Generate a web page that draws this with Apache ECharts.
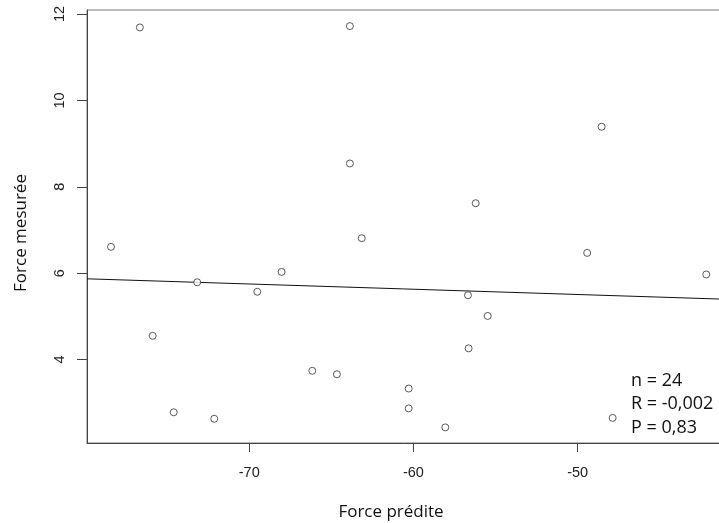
<!DOCTYPE html>
<html>
<head>
<meta charset="utf-8">
<script src="https://cdn.jsdelivr.net/npm/echarts@6/dist/echarts.min.js"></script>
<style>html,body{margin:0;padding:0;background:#fff}#c{width:719px;height:523px}</style>
</head>
<body>
<div id="c"></div>
<script>
// Data
const forcePredite = [-76.66,-63.87,-63.87,-48.54,-56.21,-78.42,-73.17,-69.51,-68.03,-63.15,-75.88,-66.16,-64.66,-60.29,-60.29,-74.60,-72.13,-49.42,-42.17,-56.68,-55.48,-56.64,-58.06,-47.87];
const forceMesuree = [11.69,11.72,8.54,9.39,7.62,6.61,5.79,5.57,6.03,6.81,4.55,3.74,3.66,3.33,2.87,2.78,2.63,6.47,5.97,5.49,5.01,4.26,2.43,2.65];
const fitX = [-79.88, -41.21];
const fitY = [5.87, 5.40];
const xTicks = [-70, -60, -50];
const yTicks = [4, 6, 8, 10, 12];
const statsLines = ["n = 24", "R = -0,002", "P = 0,83"];

const points = forcePredite.map((x, i) => [x, forceMesuree[i]]);
const fitLine = fitX.map((x, i) => [x, fitY[i]]);

const chart = echarts.init(document.getElementById('c'), null, {renderer: 'canvas'});
chart.setOption({
  animation: false,
  backgroundColor: '#ffffff',
  grid: {left: 87, top: 10, bottom: 80, right: -3, containLabel: false, outerBoundsMode: 'none',
         show: true, borderColor: '#777', borderWidth: 1, backgroundColor: 'transparent'},
  xAxis: {
    type: 'value', min: -79.88, max: -41.21,
    name: 'Force prédite', nameLocation: 'middle', nameGap: 61,
    nameTextStyle: {fontFamily: 'Open Sans', fontSize: 17, color: '#111', padding: [0, 27, 0, 0]},
    axisLine: {show: true, onZero: false, lineStyle: {color: '#444', width: 1}},
    axisTick: {show: true, length: 9, customValues: xTicks, lineStyle: {color: '#444'}},
    axisLabel: {customValues: xTicks, margin: 22, fontFamily: 'Liberation Sans', fontSize: 14.5, color: '#222'},
    splitLine: {show: false}
  },
  yAxis: {
    type: 'value', min: 2.069, max: 12.093,
    name: 'Force mesurée', nameLocation: 'middle', nameGap: 57, nameRotate: 90,
    nameTextStyle: {fontFamily: 'Open Sans', fontSize: 17, color: '#111', padding: [0, 13, 0, 0]},
    axisLine: {show: true, onZero: false, lineStyle: {color: '#444', width: 1}},
    axisTick: {show: true, length: 10, customValues: yTicks, lineStyle: {color: '#444'}},
    axisLabel: {customValues: yTicks, rotate: 90, margin: 20, fontFamily: 'Liberation Sans', fontSize: 14.5, color: '#222'},
    splitLine: {show: false}
  },
  series: [
    {
      type: 'line', data: fitLine, symbol: 'none', silent: true,
      lineStyle: {color: '#111', width: 1}, z: 2
    },
    {
      type: 'scatter', data: points, symbol: 'circle', symbolSize: 7,
      itemStyle: {color: '#fff', borderColor: '#333', borderWidth: 1}, z: 3
    }
  ],
  graphic: [{
    type: 'text', left: 631, top: 369,
    style: {text: statsLines.join('\n'), font: '18px "Open Sans"', lineHeight: 23.5, fill: '#111'}
  }]
});
</script>
</body>
</html>
